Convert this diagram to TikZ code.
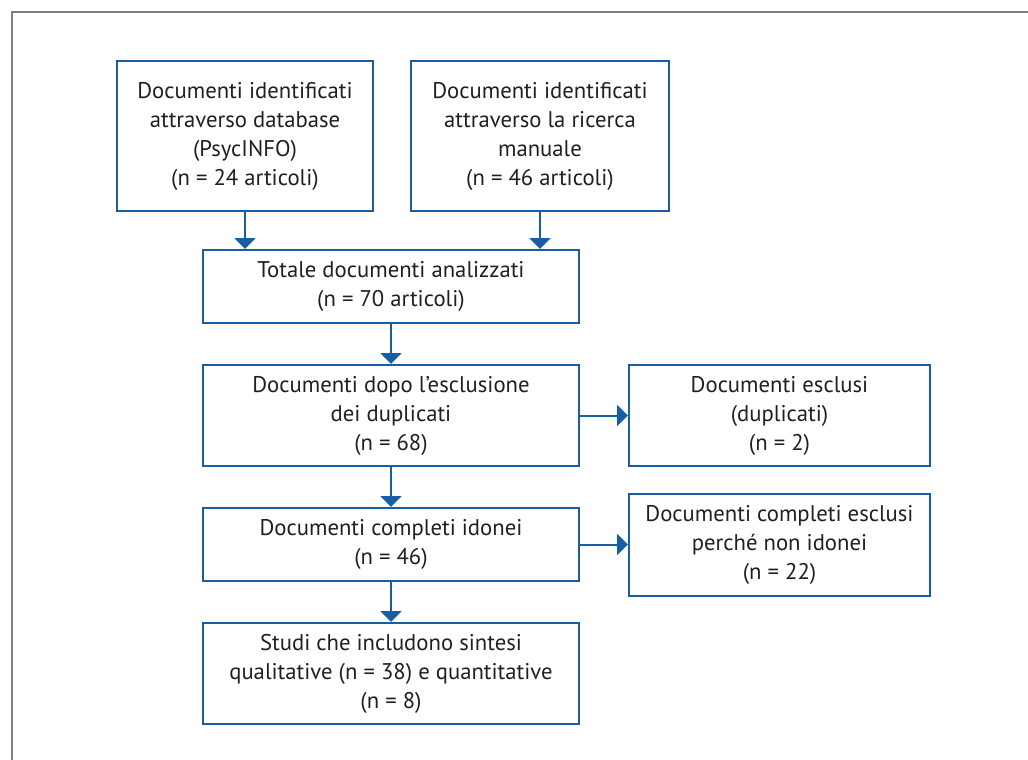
\documentclass[tikz,border=0pt]{standalone}
\usepackage{fontspec}
\setmainfont{PT Sans}
\usepackage{xcolor}
\usetikzlibrary{arrows.meta, positioning}

\definecolor{flowblue}{RGB}{24,94,166}
\definecolor{inkgray}{RGB}{35,31,32}
\definecolor{framegray}{RGB}{128,128,128}

\begin{document}
\begin{tikzpicture}[
  x=1pt, y=-1pt,
  node distance = 40pt and 48pt,
  box/.style = {
    rectangle, draw=flowblue, line width=2pt, fill=white,
    align=center, text=inkgray,
    font=\fontsize{22.7}{29}\selectfont,
    inner sep=0pt
  },
  widebox/.style = {box, minimum width=376pt},
  sidebox/.style = {box, minimum width=301pt},
  arr/.style = {-{Triangle[width=21pt, length=11pt]}, line width=2pt, flowblue},
  frame/.style = {draw=framegray, line width=2pt}
]
\useasboundingbox (0,0) rectangle (1028,760);
\draw[frame] (12,760) |- (1028,12);

% sources
\node[box, minimum width=256pt, minimum height=150pt] (dbase) at (245,136)
  {Documenti identificati\\attraverso database\\(PsycINFO)\\(n = 24 articoli)};
\node[box, minimum width=258pt, minimum height=150pt, right=36pt of dbase] (manual)
  {Documenti identificati\\attraverso la ricerca\\manuale\\(n = 46 articoli)};

% main column
\node[widebox, minimum height=73pt] (total) at (391,286.5)
  {Totale documenti analizzati\\(n = 70 articoli)};
\node[widebox, minimum height=101pt, below=of total] (nodup)
  {Documenti dopo l'esclusione\\dei duplicati\\(n = 68)};
\node[widebox, minimum height=73pt, below=of nodup] (eligible)
  {Documenti completi idonei\\(n = 46)};
\node[widebox, minimum height=101pt, below=of eligible] (studies)
  {Studi che includono sintesi\\qualitative (n = 38) e quantitative\\(n = 8)};

% exclusions
\node[sidebox, minimum height=101pt, right=of nodup] (dupl)
  {Documenti esclusi\\(duplicati)\\(n = 2)};
\node[sidebox, minimum height=102pt, right=of eligible] (notelig)
  {Documenti completi esclusi\\perché non idonei\\(n = 22)};

\draw[arr] (dbase)  -- (dbase |- total.north);
\draw[arr] (manual) -- (manual |- total.north);
\draw[arr] (total)    -- (nodup);
\draw[arr] (nodup)    -- (dupl);
\draw[arr] (nodup)    -- (eligible);
\draw[arr] (eligible) -- (notelig);
\draw[arr] (eligible) -- (studies);
\end{tikzpicture}
\end{document}
